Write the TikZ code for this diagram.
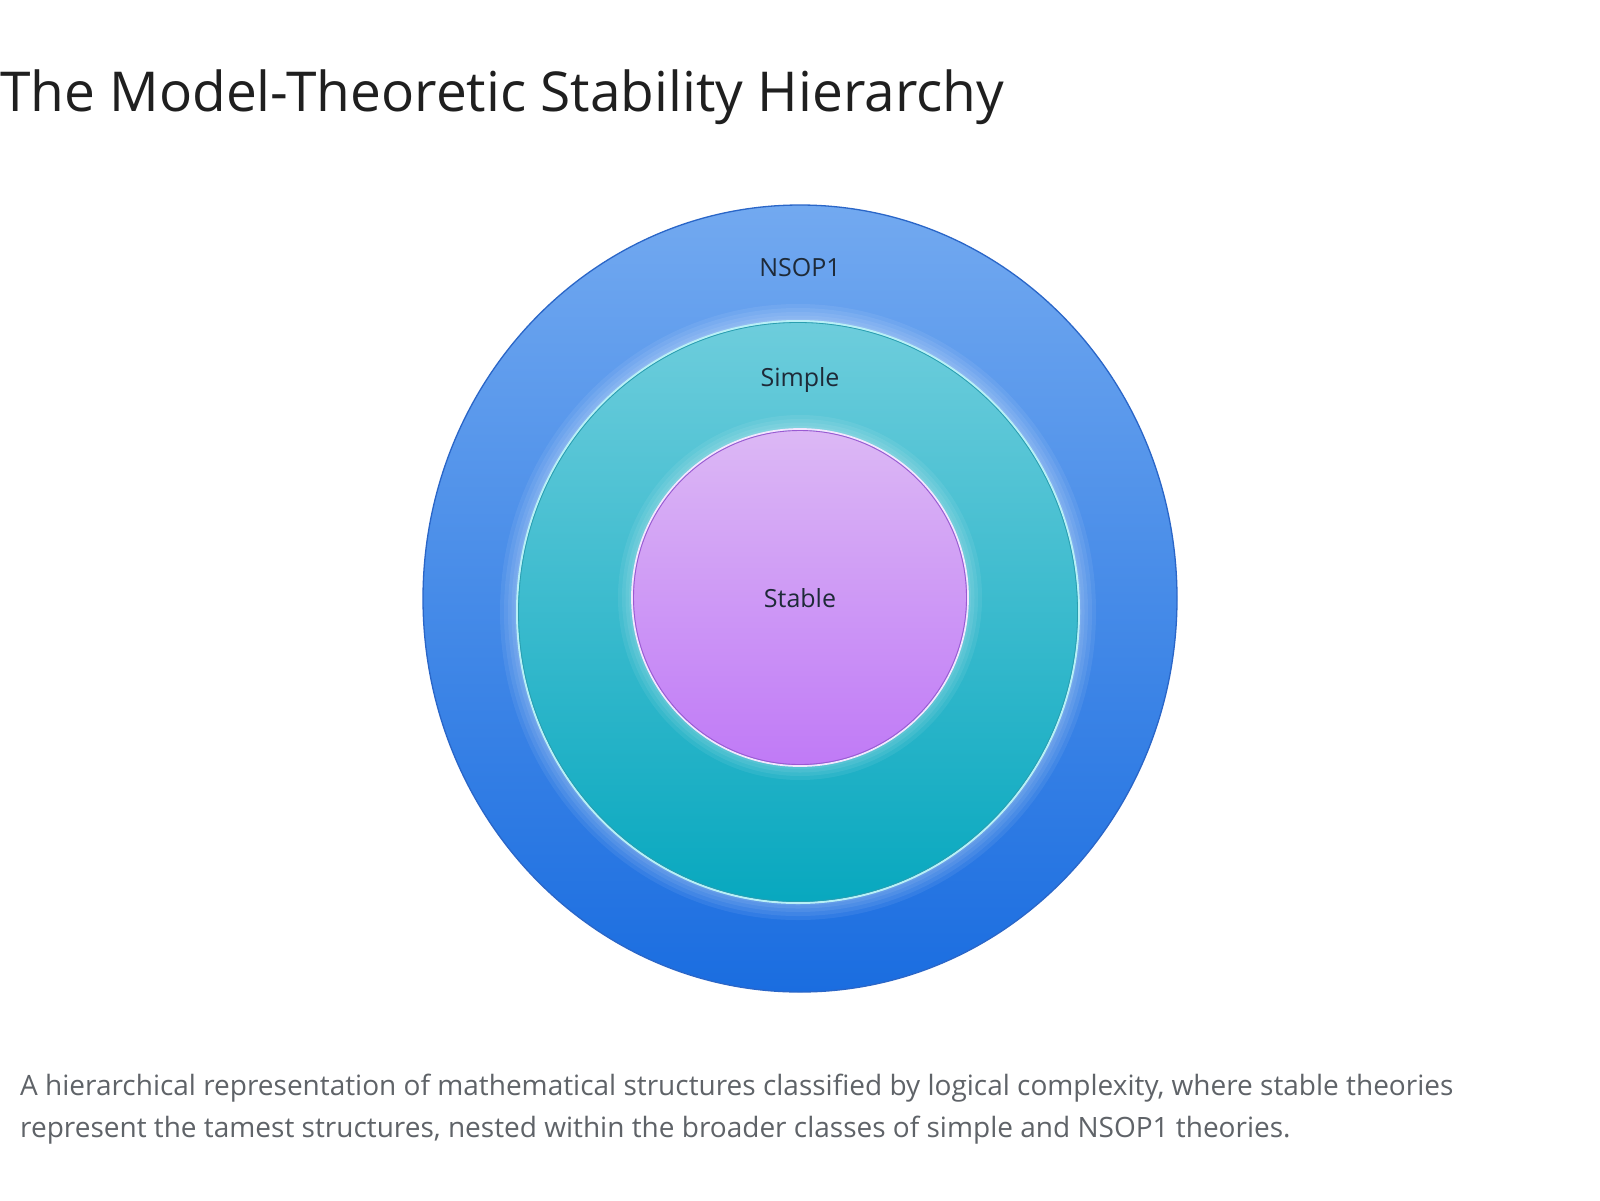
\documentclass[tikz,border=0pt]{standalone}
\usepackage{fontspec}
\setmainfont{Open Sans}
\definecolor{outtop}{HTML}{72A9F0}
\definecolor{outbot}{HTML}{1A6DE0}
\definecolor{outline}{HTML}{2A66C8}
\definecolor{midtop}{HTML}{6DCDDC}
\definecolor{midbot}{HTML}{08A8BF}
\definecolor{midline}{HTML}{2A9FB0}
\definecolor{midrim}{HTML}{B8F0F6}
\definecolor{intop}{HTML}{DCB8F5}
\definecolor{inbot}{HTML}{C07AF6}
\definecolor{inline}{HTML}{9A5AD2}
\definecolor{inrim}{HTML}{F3E6FF}
\definecolor{labeltext}{HTML}{1E2A38}
\definecolor{titletext}{HTML}{1F1F1F}
\definecolor{captext}{HTML}{5F6368}
\tikzset{
  ringlabel/.style={text=labeltext, font=\fontsize{25}{29}\selectfont, inner sep=0pt},
  halo/.style={draw=white, line width=#1, opacity=0.07},
  captionline/.style={anchor=base west, inner sep=0pt, text=captext, font=\fontsize{28}{32}\selectfont},
}
\begin{document}
\begin{tikzpicture}[x=1pt,y=-1pt]
\useasboundingbox (0,0) rectangle (1600,1200);
\fill[white] (0,0) rectangle (1600,1200);
% title
\node[anchor=base west, inner sep=0pt, text=titletext, font=\fontsize{55}{63}\selectfont] (title) at (0,111) {The Model-Theoretic Stability Hierarchy};
% outer ring
\shade[top color=outtop, bottom color=outbot] (800,598.5) ellipse [x radius=377, y radius=393.5];
\draw[outline, line width=1.3] (800,598.5) ellipse [x radius=377, y radius=393.5];
% middle ring halo
\foreach \w in {36,28,20,13,7} {\draw[halo=\w] (798,612) ellipse [x radius=280, y radius=290];}
\shade[top color=midtop, bottom color=midbot] (798,612) ellipse [x radius=280, y radius=290];
\draw[midrim, line width=2] (798,612) ellipse [x radius=281, y radius=291];
\draw[midline, line width=0.8] (798,612) ellipse [x radius=279.5, y radius=289.5];
% inner ring halo
\foreach \w in {30,22,15,8} {\draw[halo=\w] (800,597.5) ellipse [x radius=167, y radius=167.5];}
\shade[top color=intop, bottom color=inbot] (800,597.5) ellipse [x radius=167, y radius=167.5];
\draw[inrim, line width=1.8] (800,597.5) ellipse [x radius=168, y radius=168.5];
\draw[inline, line width=0.9] (800,597.5) ellipse [x radius=166.5, y radius=167];
% labels
\node[ringlabel] (nsop) at (800,268) {NSOP1};
\node[ringlabel] (simple) at (800,380) {Simple};
\node[ringlabel] (stable) at (800,598) {Stable};
% caption
\node[captionline] (cap1) at (20,1095) {A hierarchical representation of mathematical structures classified by logical complexity, where stable theories};
\node[captionline] (cap2) at (20,1137) {represent the tamest structures, nested within the broader classes of simple and NSOP1 theories.};
\end{tikzpicture}
\end{document}
